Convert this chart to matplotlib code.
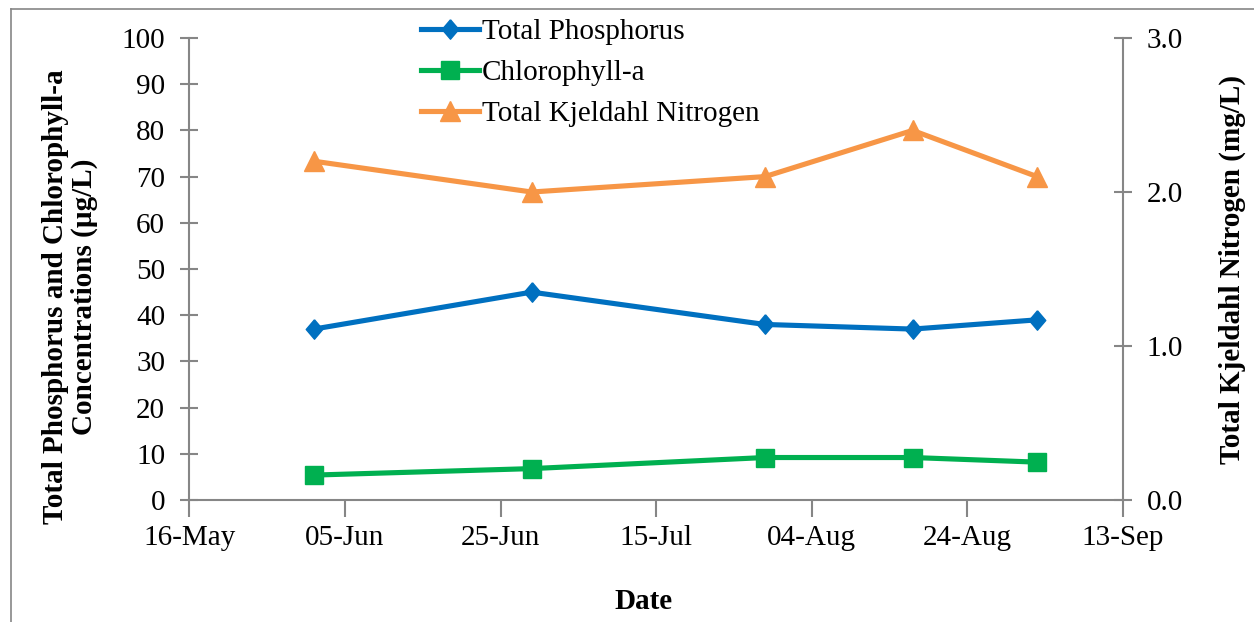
import matplotlib.pyplot as plt
import matplotlib.dates as mdates
from matplotlib.lines import Line2D
import numpy as np
import datetime as dt

# sampling dates and measured values
dates = [dt.date(2013, 6, 1), dt.date(2013, 6, 29), dt.date(2013, 7, 29),
         dt.date(2013, 8, 17), dt.date(2013, 9, 2)]
total_phosphorus = [37, 45, 38, 37, 39]       # ug/L
chlorophyll_a = [5.4, 6.8, 9.2, 9.2, 8.2]     # ug/L
tkn = [2.2, 2.0, 2.1, 2.4, 2.1]               # mg/L

x_start = dt.date(2013, 5, 16)
x_end = dt.date(2013, 9, 13)

plt.rcParams['font.family'] = ['Liberation Serif', 'DejaVu Serif']
plt.rcParams['font.size'] = 21

gray = '#868686'
blue = '#0070C0'
green = '#00B050'
orange = '#F79646'

# slightly tall diamond like the Excel marker
diamond = [(0, 1), (0.85, 0), (0, -1), (-0.85, 0), (0, 1)]

fig = plt.figure(figsize=(12.54, 6.22), dpi=100)
ax = fig.add_axes([0.1511, 0.1961, 0.8952 - 0.1511, 0.9389 - 0.1961])
ax2 = ax.twinx()

l1, = ax.plot(dates, total_phosphorus, color=blue, lw=3.7, marker=diamond, ms=14,
              label='Total Phosphorus')
l2, = ax.plot(dates, chlorophyll_a, color=green, lw=3.7, marker='s', ms=13,
              label='Chlorophyll-a')
l3, = ax2.plot(dates, tkn, color=orange, lw=3.7, marker='^', ms=14,
               label='Total Kjeldahl Nitrogen')

ax.set_xlim(x_start, x_end)
ticks = [x_start + dt.timedelta(days=20 * i) for i in range(7)]
ax.set_xticks(ticks)
ax.xaxis.set_major_formatter(mdates.DateFormatter('%d-%b'))

ax.set_ylim(0, 100)
ax.set_yticks(np.arange(0, 101, 10))
ax2.set_ylim(0, 3)
ax2.set_yticks([0, 1, 2, 3])
ax2.yaxis.set_major_formatter(plt.FormatStrFormatter('%.1f'))

for a in (ax, ax2):
    a.spines['top'].set_visible(False)
    for s in ('left', 'right', 'bottom'):
        a.spines[s].set_color(gray)
        a.spines[s].set_linewidth(1.5)
ax.spines['right'].set_visible(False)
ax2.spines['left'].set_visible(False)
ax2.spines['bottom'].set_visible(False)

ax.tick_params(axis='y', direction='inout', length=13, width=1.5, color=gray, pad=11)
ax2.tick_params(axis='y', direction='inout', length=13, width=1.5, color=gray, pad=11)
ax.tick_params(axis='x', direction='out', length=12, width=1.5, color=gray, pad=6)

ax.set_xlabel('Date', fontweight='bold')
ax.xaxis.set_label_coords(0.487, -0.19)
ax.set_ylabel('Total Phosphorus and Chlorophyll-a\nConcentrations (\u00b5g/L)',
              fontweight='bold', linespacing=1.1)
ax.yaxis.set_label_coords(-0.098, 0.44)
ax2.set_ylabel('Total Kjeldahl Nitrogen (mg/L)', fontweight='bold')
ax2.yaxis.set_label_coords(1.103, 0.5)

fig.legend(handles=[l1, l2, l3], loc='upper left',
           bbox_to_anchor=(409 / 1254, 1 - 7 / 622), frameon=False,
           handlelength=2.0, handletextpad=0.1, labelspacing=0.5,
           borderaxespad=0, fontsize=21)

# outer chart border
fig.add_artist(Line2D([11 / 1254, 11 / 1254], [0, 1 - 9 / 622], color=gray, lw=1.2))
fig.add_artist(Line2D([11 / 1254, 1], [1 - 9 / 622, 1 - 9 / 622], color=gray, lw=1.2))

fig.savefig('out.png', dpi=100)
